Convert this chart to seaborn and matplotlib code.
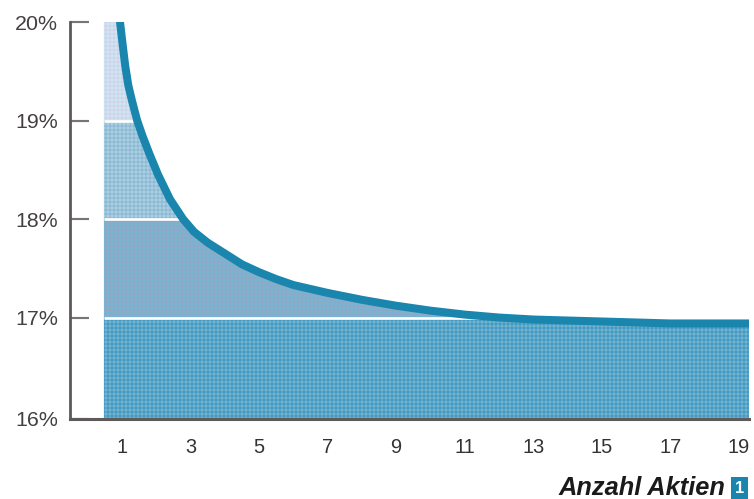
import numpy as np
import matplotlib
matplotlib.use('Agg')
import matplotlib.pyplot as plt
import seaborn as sns

# Werte
anzahl = [0.94, 1.0, 1.09, 1.18, 1.29, 1.44, 1.6, 1.8, 2.05, 2.4, 2.78, 3.1, 3.5, 4, 4.5, 5, 5.5, 6, 7, 8, 9, 10, 11,
          12, 13, 15, 17, 19, 19.3]
risiko = [20.0, 19.82, 19.56, 19.36, 19.2, 19.0, 18.84, 18.66, 18.45, 18.2, 18.0, 17.87, 17.76, 17.65, 17.54, 17.46,
          17.39, 17.33, 17.25, 17.18, 17.12, 17.07, 17.03, 17.0, 16.98, 16.96, 16.94, 16.94, 16.94]
x_ticks = [1, 3, 5, 7, 9, 11, 13, 15, 17, 19]
y_ticks = [15.97, 17, 18, 19, 20]
y_labels = ['16%', '17%', '18%', '19%', '20%']
baender = [(19, 20), (18, 19), (17, 18), (15.97, 17)]
band_farben = ['#cde8f4', '#a9d0e2', '#76b6d2', '#3f9ac6']
hatch_farben = ['#cfd2e8', '#8fb8d4', '#8ea8c6', '#74b2cc']

sns.set_theme(style='white')
plt.rcParams['font.family'] = ['Liberation Sans', 'DejaVu Sans']
plt.rcParams['hatch.linewidth'] = 0.8

# dpi 96: das Schraffurmuster liegt dann genau auf 4 Pixeln
fig = plt.figure(figsize=(754 / 96, 499 / 96), dpi=96)
ax = fig.add_axes([70 / 754, 80 / 499, 679 / 754, 397 / 499])

# Flaeche unter der Kurve, in vier Baendern
fx = np.array([0.47] + anzahl)
fy = np.array([20.0] + risiko)
for (lo, hi), farbe, hf in zip(baender, band_farben, hatch_farben):
    ax.fill_between(fx, lo, np.clip(fy, lo, hi), where=fy >= lo, facecolor=farbe, edgecolor=hf,
                    hatch='++++', linewidth=0, zorder=1)

for wert in [17, 18, 19]:
    grenze = fx[fy >= wert].max()
    ax.plot([0.47, grenze], [wert, wert], color='white', lw=2, zorder=2, solid_capstyle='butt')

sns.lineplot(x=anzahl, y=risiko, ax=ax, color='#1a86ad', lw=6, zorder=3, errorbar=None, estimator=None,
             solid_joinstyle='round')

ax.set_xlim(-0.52, 19.3)
ax.set_ylim(15.97, 20)
ax.set_xticks(x_ticks)
ax.set_xticklabels([str(v) for v in x_ticks])
ax.set_yticks(y_ticks)
ax.set_yticklabels(y_labels)
ax.tick_params(axis='x', length=0, pad=14, labelsize=15, labelcolor='#333333')
ax.tick_params(axis='y', left=True, direction='in', length=14.6, width=1.6, color='#7a7474', pad=9, labelsize=16,
               labelcolor='#444040')

sns.despine(ax=ax)
ax.spines['left'].set_color('#5f5a5a')
ax.spines['left'].set_linewidth(2.1)
ax.spines['bottom'].set_color('#5f5a5a')
ax.spines['bottom'].set_linewidth(2.3)

fig.text(725 / 754, 11 / 499, 'Anzahl Aktien', ha='right', va='center', fontsize=19, fontweight='bold',
         fontstyle='italic', color='#1a1a1a')
fig.text(739.5 / 754, 10.5 / 499, '1', ha='center', va='center', fontsize=12.5, fontweight='bold', color='white',
         bbox=dict(boxstyle='square,pad=0.25', facecolor='#1a86ad', edgecolor='none'))

fig.savefig('out.png', dpi=96)
